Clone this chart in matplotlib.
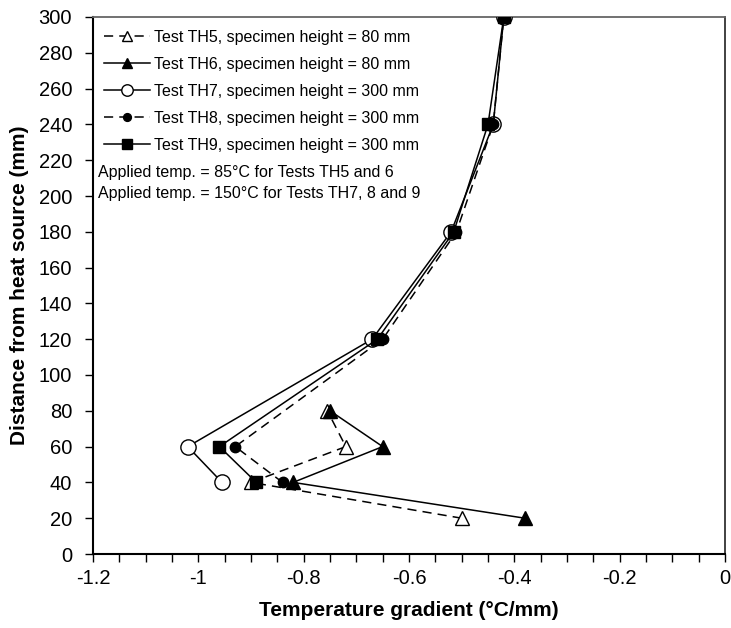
import matplotlib
matplotlib.use("Agg")
import matplotlib.pyplot as plt
from matplotlib.ticker import MultipleLocator, FuncFormatter

plt.rcParams['font.family'] = ['Liberation Sans', 'DejaVu Sans']

# Data (distance from heat source in mm, temperature gradient in degC/mm)
th5_y = [20, 40, 60, 80]
th5_x = [-0.50, -0.90, -0.72, -0.755]
th6_y = [20, 40, 60, 80]
th6_x = [-0.38, -0.82, -0.65, -0.75]
th7_y = [40, 60, 120, 180, 240, 300]
th7_x = [-0.955, -1.02, -0.67, -0.52, -0.44, -0.42]
th8_y = [40, 60, 120, 180, 240, 300]
th8_x = [-0.84, -0.93, -0.65, -0.51, -0.44, -0.42]
th9_y = [40, 60, 120, 180, 240, 300]
th9_x = [-0.89, -0.96, -0.66, -0.515, -0.45, -0.42]

labels = ["Test TH5, specimen height = 80 mm",
          "Test TH6, specimen height = 80 mm",
          "Test TH7, specimen height = 300 mm",
          "Test TH8, specimen height = 300 mm",
          "Test TH9, specimen height = 300 mm"]
notes = ["Applied temp. = 85°C for Tests TH5 and 6",
         "Applied temp. = 150°C for Tests TH7, 8 and 9"]

fig = plt.figure(figsize=(7.31, 6.28), dpi=100)
ax = fig.add_axes([93/731, 1-554/628, (725-93)/731, (554-17)/628])

dash = (6, 4)
lw = 1.1
ax.plot(th5_x, th5_y, color='black', lw=lw, dashes=dash, marker='^', ms=10.5,
        mfc='white', mec='black', mew=1, label=labels[0], zorder=3)
ax.plot(th6_x, th6_y, color='black', lw=lw, marker='^', ms=10.5,
        mfc='black', mec='black', label=labels[1], zorder=4)
ax.plot(th7_x, th7_y, color='black', lw=lw, marker='o', ms=11,
        mfc='white', mec='black', mew=1, label=labels[2], zorder=3)
ax.plot(th8_x, th8_y, color='black', lw=lw, dashes=dash, marker='o', ms=7.5,
        mfc='black', mec='black', label=labels[3], zorder=4)
ax.plot(th9_x, th9_y, color='black', lw=lw, marker='s', ms=9,
        mfc='black', mec='black', label=labels[4], zorder=4)

ax.set_xlim(-1.2, 0)
ax.set_ylim(0, 300)
ax.xaxis.set_major_locator(MultipleLocator(0.2))
ax.xaxis.set_minor_locator(MultipleLocator(0.05))
ax.yaxis.set_major_locator(MultipleLocator(20))
ax.xaxis.set_major_formatter(FuncFormatter(lambda v, p: ('%g' % round(v, 2))))
ax.tick_params(axis='both', which='both', direction='out', length=6, width=1,
               labelsize=14.5, colors='black')
ax.tick_params(axis='x', pad=5)
ax.tick_params(axis='y', pad=9)

for s in ['left', 'bottom']:
    ax.spines[s].set_linewidth(1.5)
    ax.spines[s].set_color('black')
ax.spines['top'].set_linewidth(1.3)
ax.spines['top'].set_color('#666666')
ax.spines['right'].set_linewidth(1.3)
ax.spines['right'].set_color('#333333')

ax.set_xlabel('Temperature gradient (°C/mm)', fontsize=15, fontweight='bold', labelpad=9)
ax.set_ylabel('Distance from heat source (mm)', fontsize=15, fontweight='bold', labelpad=7)

leg = ax.legend(loc='upper left', bbox_to_anchor=(0.0, 0.997), frameon=False,
                fontsize=11.5, handlelength=2.85, handletextpad=0.25,
                labelspacing=0.75, markerscale=0.75, borderaxespad=0.3)

ax.text(-1.19, 213, notes[0], fontsize=11.5, va='center', ha='left')
ax.text(-1.19, 201.5, notes[1], fontsize=11.5, va='center', ha='left')

fig.savefig('out.png', dpi=100)
